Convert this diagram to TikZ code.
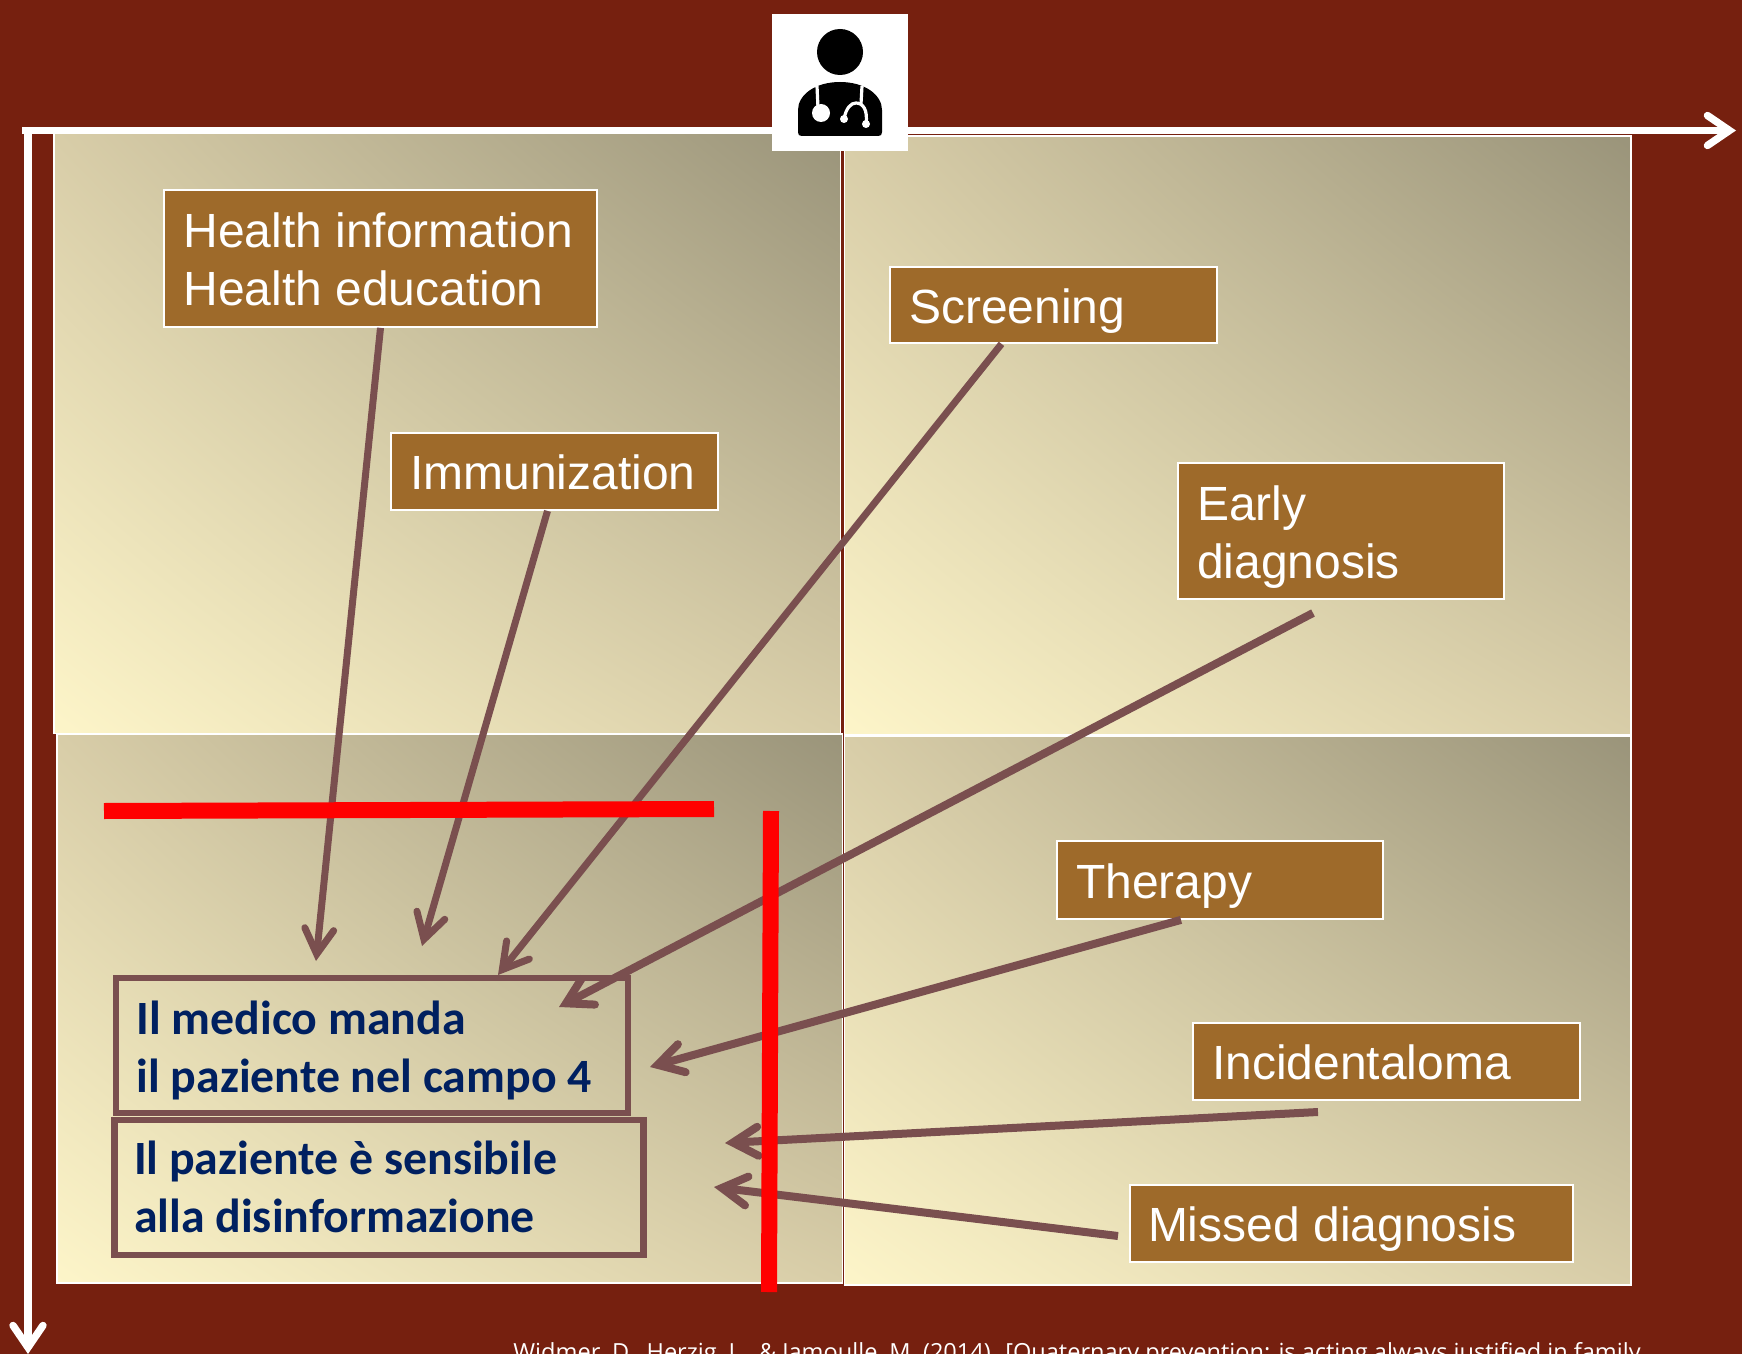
\documentclass[tikz,border=0pt]{standalone}
\usepackage{fontspec}
\setmainfont{Liberation Sans}
\newfontfamily\bluefont{Carlito}
\newfontfamily\citefont{Open Sans}
\usetikzlibrary{arrows.meta,shadings}
\definecolor{bgred}{HTML}{76200F}
\definecolor{boxbrown}{HTML}{9E6A2A}
\definecolor{arrowc}{HTML}{7A4F4F}
\definecolor{navy}{HTML}{002060}
\definecolor{pLL}{HTML}{FDF5C9}
\definecolor{pUR}{HTML}{9A947A}
\definecolor{pMid}{HTML}{D8CDA8}
\newcommand{\brownline}{\rule[-5pt]{0pt}{28pt}}
\newcommand{\blueA}{\rule[-5pt]{0pt}{27.8pt}}
\newcommand{\blueB}{\rule[-5pt]{0pt}{26.4pt}}
\tikzset{
  panel/.style={draw=white,line width=0.9pt,shade,shading=bilinear interpolation,lower left=pLL,upper right=pUR,upper left=pMid,lower right=pMid},
  brownbox/.style={draw=white,line width=0.9pt,fill=boxbrown,text=white,inner sep=0pt,align=flush left,font=\fontsize{24}{29}\selectfont},
  bluebox/.style={draw=arrowc,line width=3.2pt,inner sep=0pt,text=navy,align=flush left,font=\bluefont\bfseries\fontsize{23.9}{29}\selectfont},
  conn/.style={draw=arrowc,line width=3.5pt,-{Straight Barb[length=12.5pt,width=14.5pt,line cap=round]}},
  connheavy/.style={conn,line width=4pt},
  redbar/.style={draw=red,line width=8pt},
  axis/.style={draw=white,line width=3.7pt,-{Straight Barb[length=11pt,width=15pt,line cap=round]}}
}
\begin{document}
\begin{tikzpicture}[x=0.5pt,y=-0.5pt]
\useasboundingbox (0,0) rectangle (1742,1354);
\fill[bgred] (0,0) rectangle (1742,1354);
% panels
\path[panel] (54,133) rectangle (840.5,733.5);
\path[panel] (844.5,136) rectangle (1631,735);
\path[panel] (57,734) rectangle (842.5,1283);
\path[panel] (844.5,736) rectangle (1631,1285);
% axes
\coordinate (origin) at (22,130.5);
\coordinate (xend) at (1736,130.5);
\coordinate (ycorner) at (28,130.5);
\coordinate (yend) at (28,1354);
\draw[axis] (origin) -- (xend);
\draw[axis] (ycorner) -- (yend);
% boxes
\node[brownbox,minimum width=216.5pt,minimum height=68.5pt,text width=197pt] (health) at (380.5,258.5) {\brownline Health information\\\brownline Health education};
\node[brownbox,minimum width=163.5pt,minimum height=38.5pt,text width=144.5pt] (immun) at (554.5,471.5) {\brownline Immunization};
\node[brownbox,minimum width=163.5pt,minimum height=38pt,text width=144.5pt] (screen) at (1053.5,305) {\brownline Screening};
\node[brownbox,minimum width=163pt,minimum height=68pt,text width=144pt] (early) at (1341,531) {\brownline Early\\\brownline diagnosis};
\node[brownbox,minimum width=163pt,minimum height=39pt,text width=144pt] (therapy) at (1220,880) {\brownline Therapy};
\node[brownbox,minimum width=193.5pt,minimum height=38.5pt,text width=174.5pt] (incid) at (1386.5,1061.5) {\brownline Incidentaloma};
\node[brownbox,minimum width=221.5pt,minimum height=38.5pt,text width=203.5pt] (missed) at (1351.5,1223.5) {\brownline Missed diagnosis};
\node[bluebox,minimum width=256pt,minimum height=67.5pt,text width=235.5pt] (sends) at (372,1045.5) {\blueA Il medico manda\\\blueA il paziente nel campo 4};
\node[bluebox,minimum width=264.5pt,minimum height=67.5pt,text width=245pt] (sens) at (379,1187.5) {\blueB Il paziente è sensibile\\\blueB alla disinformazione};
% connector ends
\coordinate (t1) at (316,961);
\coordinate (t2) at (422,946);
\coordinate (t3) at (498,975);
\coordinate (s4) at (1313,613);
\coordinate (t4) at (559,1007);
\coordinate (t5) at (650,1067);
\coordinate (s6) at (1318,1112);
\coordinate (t6) at (725,1143);
\coordinate (s7) at (1118,1236);
\coordinate (t7) at (714,1187);
\draw[conn] (health.south) -- (t1);
\draw[conn] ([xshift=-3.5pt]immun.south) -- (t2);
\draw[conn] ([xshift=-26pt]screen.south) -- (t3);
\draw[connheavy] (s4) -- (t4);
\draw[connheavy] ([xshift=-19.5pt]therapy.south) -- (t5);
\draw[connheavy] (s6) -- (t6);
\draw[connheavy] (s7) -- (t7);
% red bars
\coordinate (h1) at (104,811);
\coordinate (h2) at (714,809);
\coordinate (v1) at (771,811);
\coordinate (v2) at (769,1292);
\draw[redbar] (h1) -- (h2);
\draw[redbar] (v1) -- (v2);
% doctor icon
\fill[white] (772,14) rectangle (908,151);
\fill[black] (840,52) circle[radius=23];
\fill[black] (798,132) -- (798,110) .. controls (798,95) and (815,82) .. (840,82) .. controls (865,82) and (882,95) .. (882,110) -- (882,132) .. controls (882,135) and (881,136) .. (878,136) -- (802,136) .. controls (799,136) and (798,135) .. (798,132) -- cycle;
\draw[white,line width=1.6pt] (817,86) -- (818,108);
\fill[white] (821,113) circle[radius=9];
\draw[white,line width=1.6pt] (862,86) -- (861,104);
\draw[white,line width=1.6pt] (844,119) .. controls (846,108) and (851,103) .. (856,103) .. controls (863,103) and (868,110) .. (866,124);
\fill[white] (844,119) circle[radius=4];
\fill[white] (866,124) circle[radius=4];
% citation
\node[anchor=base west,inner sep=0pt,text=white,font=\citefont\fontsize{11.78}{13}\selectfont] (cite) at (513,1360) {Widmer, D., Herzig, L., \& Jamoulle, M. (2014). [Quaternary prevention: is acting always justified in family};
\end{tikzpicture}
\end{document}
